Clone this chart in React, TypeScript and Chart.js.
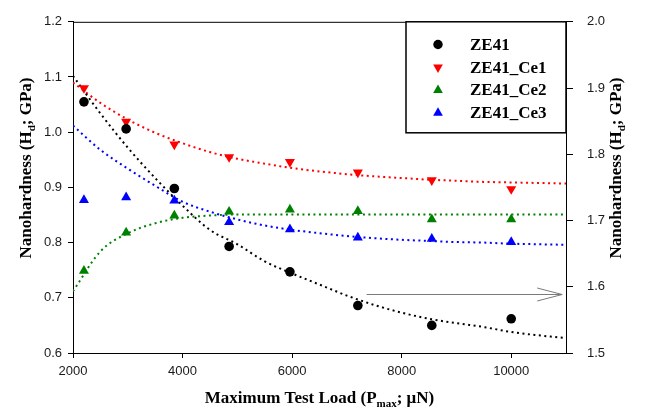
import React, { useEffect, useRef } from 'react';
import { Chart, registerables } from 'chart.js';

Chart.register(...registerables);

// ---- data ----
const loadX = [2200, 2970, 3850, 4850, 5960, 7200, 8550, 10000];
const ze41 = [1.055, 1.006, 0.898, 0.793, 0.747, 0.686, 0.65, 0.662];
const ze41Ce1 = [1.08, 1.019, 0.978, 0.955, 0.946, 0.927, 0.913, 0.897];
const ze41Ce2 = [0.749, 0.818, 0.849, 0.856, 0.86, 0.857, 0.842, 0.842];
const ze41Ce3 = [0.877, 0.882, 0.876, 0.837, 0.824, 0.809, 0.807, 0.801];

const fitX = [2000, 2500, 3000, 3500, 4000, 4500, 5000, 5500, 6000, 6500, 7000, 7500, 8000, 8500, 9000, 9500, 10000, 10500, 11000];
const fitZE41 = [1.102, 1.034, 0.972, 0.917, 0.867, 0.823, 0.797, 0.766, 0.744, 0.724, 0.704, 0.687, 0.673, 0.662, 0.654, 0.647, 0.638, 0.632, 0.627];
const fitCe1 = [1.09, 1.053, 1.023, 0.999, 0.98, 0.964, 0.952, 0.943, 0.935, 0.929, 0.924, 0.92, 0.917, 0.914, 0.912, 0.91, 0.909, 0.908, 0.907];
const fitCe2 = [0.712, 0.784, 0.817, 0.835, 0.845, 0.849, 0.851, 0.851, 0.851, 0.851, 0.851, 0.851, 0.851, 0.851, 0.851, 0.851, 0.851, 0.851, 0.851];
const fitCe3 = [1.012, 0.968, 0.934, 0.903, 0.874, 0.856, 0.842, 0.831, 0.823, 0.817, 0.812, 0.808, 0.805, 0.803, 0.801, 0.8, 0.798, 0.797, 0.796];

const seriesNames = ['ZE41', 'ZE41_Ce1', 'ZE41_Ce2', 'ZE41_Ce3'];
const xRange = [2000, 11000];
const leftRange = [0.6, 1.2];
const rightRange = [1.5, 2.0];
const xTicks = [2000, 4000, 6000, 8000, 10000];
const leftTicks = [0.6, 0.7, 0.8, 0.9, 1.0, 1.1, 1.2];
const rightTicks = [1.5, 1.6, 1.7, 1.8, 1.9, 2.0];

const xTitle = [
  { t: 'Maximum Test Load (P', sub: false },
  { t: 'max', sub: true },
  { t: '; \u03bcN)', sub: false },
];
const yTitle = [
  { t: 'Nanohardness (H', sub: false },
  { t: 'd', sub: true },
  { t: '; GPa)', sub: false },
];

// ---- styles ----
const colors = ['#000000', '#ff0000', '#008000', '#0000ff'];
const pointStyles = ['circle', 'triangle', 'triangle', 'triangle'];
const rotations = [0, 180, 0, 0];
const radii = [4.8, 5.8, 5.8, 5.8];
const SERIF = '"Liberation Serif", "Times New Roman", serif';
const SANS = '"Liberation Sans", Arial, sans-serif';

const pts = (xs: number[], ys: number[]) => xs.map((x, i) => ({ x, y: ys[i] }));

function drawRich(ctx: CanvasRenderingContext2D, parts: { t: string; sub: boolean }[], cx: number, cy: number, rotate: boolean) {
  const big = `bold 17px ${SERIF}`;
  const small = `bold 11px ${SERIF}`;
  let total = 0;
  const widths = parts.map((p) => {
    ctx.font = p.sub ? small : big;
    const w = ctx.measureText(p.t).width;
    total += w;
    return w;
  });
  ctx.save();
  ctx.translate(cx, cy);
  if (rotate) ctx.rotate(-Math.PI / 2);
  ctx.fillStyle = '#000';
  ctx.textBaseline = 'alphabetic';
  ctx.textAlign = 'left';
  let x = -total / 2;
  parts.forEach((p, i) => {
    ctx.font = p.sub ? small : big;
    ctx.fillText(p.t, x, p.sub ? 10 : 6);
    x += widths[i];
  });
  ctx.restore();
}

function drawMarker(ctx: CanvasRenderingContext2D, style: string, rot: number, x: number, y: number, r: number, color: string) {
  ctx.save();
  ctx.fillStyle = color;
  ctx.beginPath();
  if (style === 'circle') {
    ctx.arc(x, y, r, 0, Math.PI * 2);
  } else {
    let a = (rot * Math.PI) / 180;
    for (let k = 0; k < 3; k++) {
      const px = x + Math.sin(a) * r;
      const py = y - Math.cos(a) * r;
      if (k === 0) ctx.moveTo(px, py);
      else ctx.lineTo(px, py);
      a += (2 * Math.PI) / 3;
    }
    ctx.closePath();
  }
  ctx.fill();
  ctx.restore();
}

const decorPlugin = {
  id: 'decor',
  afterDatasetsDraw(chart: any) {
    const ctx: CanvasRenderingContext2D = chart.ctx;
    const { left, right, top } = chart.chartArea;
    const xs = chart.scales.x;
    const ys = chart.scales.y;
    ctx.save();
    ctx.strokeStyle = '#000';
    ctx.lineWidth = 1;
    ctx.beginPath();
    ctx.moveTo(left, top + 0.5);
    ctx.lineTo(right, top + 0.5);
    ctx.stroke();
    // arrow pointing at the right axis
    const ay = Math.round(ys.getPixelForValue(0.707)) + 0.5;
    const ax0 = xs.getPixelForValue(7360);
    const ax1 = xs.getPixelForValue(10930);
    ctx.strokeStyle = '#7a7a7a';
    ctx.lineWidth = 1;
    ctx.beginPath();
    ctx.moveTo(ax0, ay);
    ctx.lineTo(ax1, ay);
    ctx.moveTo(ax1 - 25, ay - 6.5);
    ctx.lineTo(ax1, ay);
    ctx.lineTo(ax1 - 25, ay + 6.5);
    ctx.stroke();
    ctx.restore();
  },
  afterDraw(chart: any) {
    const ctx: CanvasRenderingContext2D = chart.ctx;
    const { left, right, top } = chart.chartArea;
    const bw = 160;
    const bh = 111;
    const bx = right - bw;
    const by = top;
    ctx.save();
    ctx.fillStyle = '#fff';
    ctx.fillRect(bx, by, bw, bh);
    ctx.strokeStyle = '#000';
    ctx.lineWidth = 1.5;
    ctx.strokeRect(bx, by, bw, bh);
    ctx.font = `bold 17px ${SERIF}`;
    ctx.textBaseline = 'middle';
    ctx.textAlign = 'left';
    seriesNames.forEach((name, i) => {
      const ry = by + 22.7 + i * 22.8;
      drawMarker(ctx, pointStyles[i], rotations[i], bx + 32, ry, i === 0 ? 4.7 : 5.6, colors[i]);
      ctx.fillStyle = '#000';
      ctx.fillText(name, bx + 64, ry + 1);
    });
    ctx.restore();
    drawRich(ctx, xTitle, (left + right) / 2, 397, false);
    drawRich(ctx, yTitle, 25, 168, true);
    drawRich(ctx, yTitle, 615, 168, true);
  },
};

export default function App() {
  const ref = useRef<HTMLCanvasElement | null>(null);
  useEffect(() => {
    if (!ref.current) return;
    const pointSeries = [ze41, ze41Ce1, ze41Ce2, ze41Ce3];
    const fitSeries = [fitZE41, fitCe1, fitCe2, fitCe3];
    const datasets: any[] = [];
    pointSeries.forEach((ys, i) => {
      datasets.push({
        label: seriesNames[i],
        data: pts(loadX, ys),
        showLine: false,
        pointStyle: pointStyles[i],
        rotation: rotations[i],
        pointRadius: radii[i],
        pointBackgroundColor: colors[i],
        pointBorderColor: colors[i],
        pointBorderWidth: 0,
        yAxisID: 'y',
      });
    });
    fitSeries.forEach((ys, i) => {
      datasets.push({
        label: seriesNames[i] + ' fit',
        data: pts(fitX, ys),
        showLine: true,
        pointRadius: 0,
        borderColor: colors[i],
        borderWidth: 2,
        borderDash: [2, 3.5],
        cubicInterpolationMode: 'monotone',
        fill: false,
        yAxisID: 'y',
      });
    });
    const tickFont = { family: SANS, size: 13 };
    const setTicks = (vals: number[]) => (s: any) => {
      s.ticks = vals.map((v) => ({ value: v }));
    };
    const chart = new Chart(ref.current, {
      type: 'scatter',
      data: { datasets },
      options: {
        animation: false,
        responsive: false,
        devicePixelRatio: 1,
        layout: { padding: { top: 9, left: 0, right: 0, bottom: 0 } },
        plugins: { legend: { display: false }, tooltip: { enabled: false } },
        scales: {
          x: {
            type: 'linear',
            position: 'bottom',
            min: xRange[0],
            max: xRange[1],
            afterBuildTicks: setTicks(xTicks),
            ticks: { font: tickFont, color: '#1a1a1a', padding: 6, maxRotation: 0, autoSkip: false, callback: (v: any) => String(v) },
            grid: { drawOnChartArea: false, tickLength: 5, color: '#000' },
            border: { display: true, color: '#000', width: 1 },
            afterFit: (s: any) => { s.height = 63; },
          },
          y: {
            type: 'linear',
            position: 'left',
            min: leftRange[0],
            max: leftRange[1],
            afterBuildTicks: setTicks(leftTicks),
            ticks: { font: tickFont, color: '#1a1a1a', padding: 6, autoSkip: false, callback: (v: any) => Number(v).toFixed(1) },
            grid: { drawOnChartArea: false, tickLength: 5, color: '#000' },
            border: { display: true, color: '#000', width: 1 },
            afterFit: (s: any) => { s.width = 73; },
          },
          y2: {
            type: 'linear',
            position: 'right',
            display: true,
            min: rightRange[0],
            max: rightRange[1],
            afterBuildTicks: setTicks(rightTicks),
            ticks: { font: tickFont, color: '#1a1a1a', padding: 14, autoSkip: false, callback: (v: any) => Number(v).toFixed(1) },
            grid: { drawOnChartArea: false, tickLength: 7, color: '#000' },
            border: { display: true, color: '#000', width: 1 },
            afterFit: (s: any) => { s.width = 85; },
          },
        },
      },
      plugins: [decorPlugin],
    } as any);
    return () => chart.destroy();
  }, []);
  return (
    <div style={{ position: 'fixed', left: 0, top: 0, width: 651, height: 416, background: '#fff' }}>
      <canvas ref={ref} width={651} height={416} style={{ display: 'block' }} />
    </div>
  );
}
